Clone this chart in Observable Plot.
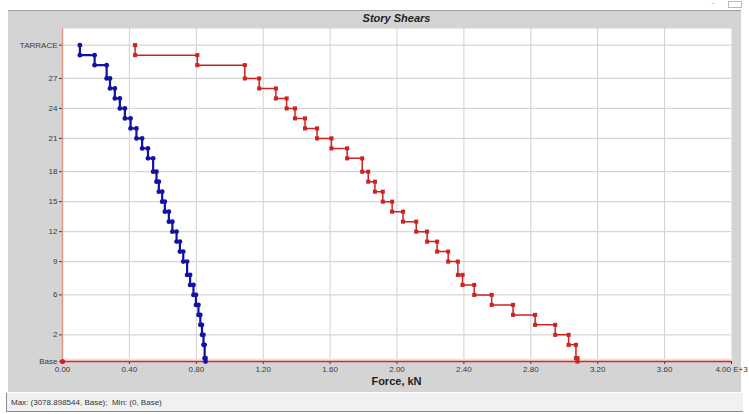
<!DOCTYPE html>
<html>
<head>
<meta charset="utf-8">
<script src="https://cdn.jsdelivr.net/npm/d3@7"></script>
<script src="https://cdn.jsdelivr.net/npm/@observablehq/plot@0.6"></script>
<style>
  html, body { margin: 0; padding: 0; background: #fff; }
  #wrap { position: relative; width: 749px; height: 414px; overflow: hidden;
          font-family: "Liberation Sans", Arial, sans-serif; color: #333; }
  #panel { position: absolute; left: 8px; top: 10px; width: 733px; height: 382px;
           background: #d4d4d4; border-top: 1px solid #9c9c9c; box-sizing: border-box; }
  #title { position: absolute; left: 62px; width: 669px; top: 12px; text-align: center;
           font-size: 11px; font-weight: bold; font-style: italic; color: #222; }
  #chart { position: absolute; left: 0; top: 0; }
  #xlabel { position: absolute; left: 62px; width: 669px; top: 375px; text-align: center;
            font-size: 11px; font-weight: bold; color: #222; }
  #status { position: absolute; left: 6px; top: 393px; width: 737px; height: 19px;
            background: #f1f1f1; border-bottom: 1px solid #8a8a8a; border-left: 1px solid #8a8a8a;
            box-sizing: border-box; font-size: 8px; line-height: 19px; padding-left: 4px; color: #333;
            white-space: pre; }
  #winbtn { position: absolute; left: 728px; top: 1px; width: 14px; height: 7px;
            border: 1px solid #a9bfd6; box-sizing: border-box; }
  #winmin { position: absolute; left: 712px; top: 2px; font-size: 7px; line-height: 7px; color: #999; }
</style>
</head>
<body>
<div id="wrap">
  <div id="panel"></div>
  <div id="winmin">ˇ</div>
  <div id="winbtn"></div>
  <div id="title">Story Shears</div>
  <div id="chart"></div>
  <div id="xlabel">Force, kN</div>
  <div id="status"></div>
</div>
<script>
// Story levels, bottom to top, with elevations in metres
const levelNames = ["Base", "PLINTH", "1", "2", "3", "4", "5", "6", "7", "8", "9", "10",
  "11", "12", "13", "14", "15", "16", "17", "18", "19", "20", "21", "22", "23", "24",
  "25", "26", "27", "28", "29", "TARRACE"];
const levelElev = [0, 1, 5, 8, 11, 14, 17, 20, 23, 26, 30, 33, 36, 39, 42, 45, 48, 51,
  54, 57, 61, 64, 67, 70, 73, 76, 79, 82, 85, 89, 92, 95];

// Story shears (kN) for each story PLINTH .. TARRACE (story spans the level below to its own level)
const shearBlue = [855, 850, 843, 834, 824, 813, 798, 783, 763, 745, 722, 702, 682, 657,
  636, 612, 596, 576, 562, 542, 511, 476, 442, 407, 373, 343, 313, 284, 264, 192, 104];
const shearRed = [3078.898544, 3070, 3026, 2946, 2826, 2694, 2566, 2462, 2392, 2364, 2306,
  2240, 2180, 2115, 2036, 1971, 1915, 1868, 1828, 1792, 1702, 1608, 1522, 1450, 1390,
  1340, 1276, 1176, 1090, 806, 434];

// Axis ticks
const xTicks = [0, 400, 800, 1200, 1600, 2000, 2400, 2800, 3200, 3600, 4000];
const yTickLevels = ["Base", "2", "6", "9", "12", "15", "18", "21", "24", "27", "TARRACE"];

// Step profile: each story is a vertical run at its shear, joined level by level from top down
function stepProfile(shears) {
  const pts = [];
  for (let i = shears.length; i >= 1; i--) {
    pts.push({v: shears[i - 1], elev: levelElev[i]});
    pts.push({v: shears[i - 1], elev: levelElev[i - 1]});
  }
  return pts;
}
const bluePts = stepProfile(shearBlue);
const redPts = stepProfile(shearRed);

const yTickElev = yTickLevels.map(n => levelElev[levelNames.indexOf(n)]);
const nameAt = new Map(levelElev.map((e, i) => [e, levelNames[i]]));

const blue = "#1212a6";
const red = "#cc2323";

const chart = Plot.plot({
  width: 749,
  height: 392,
  marginLeft: 62,
  marginRight: 18,
  marginTop: 28,
  marginBottom: 31,
  style: {fontSize: "8px", fontFamily: "Liberation Sans, Arial, sans-serif", color: "#3a3a3a", background: "transparent"},
  x: {domain: [0, 4000]},
  y: {domain: [0, 100]},
  marks: [
    Plot.frame({fill: "white", stroke: "none"}),
    Plot.gridX({ticks: xTicks.filter(t => t > 0 && t < 4000), stroke: "#cfcfcf", strokeOpacity: 1}),
    Plot.gridY({ticks: yTickElev.filter(e => e > 0), stroke: "#d6d6d6", strokeOpacity: 1, strokeWidth: 1.3}),
    Plot.axisX({ticks: xTicks, tickSize: 3, tickPadding: 2, label: null,
      tickFormat: d => d === 4000 ? "4.00 E+3" : (d / 1000).toFixed(2)}),
    Plot.axisY({ticks: yTickElev, tickSize: 3, tickPadding: 2, label: null,
      tickFormat: d => nameAt.get(d)}),
    Plot.ruleX([0], {stroke: "#dc9a86", strokeWidth: 1.5}),
    Plot.ruleY([0], {stroke: "#f8e0e0", strokeWidth: 3, dy: -1.5}),
    Plot.ruleY([0], {stroke: "#d42a2a", strokeWidth: 1.6}),
    Plot.line(redPts, {x: "v", y: "elev", stroke: red, strokeWidth: 1.5}),
    Plot.dot(redPts, {x: "v", y: "elev", symbol: "square", r: 2.3, fill: red}),
    Plot.dot([{v: 0, elev: 0}], {x: "v", y: "elev", r: 2.6, fill: red}),
    Plot.line(bluePts, {x: "v", y: "elev", stroke: blue, strokeWidth: 2.2}),
    Plot.dot(bluePts, {x: "v", y: "elev", r: 2.4, fill: blue})
  ]
});
document.getElementById("chart").appendChild(chart);

// Status line: extreme values of the plotted shears
const maxV = d3.max(shearRed);
document.getElementById("status").textContent =
  `Max: (${maxV}, Base);  Min: (0, Base)`;
</script>
</body>
</html>
